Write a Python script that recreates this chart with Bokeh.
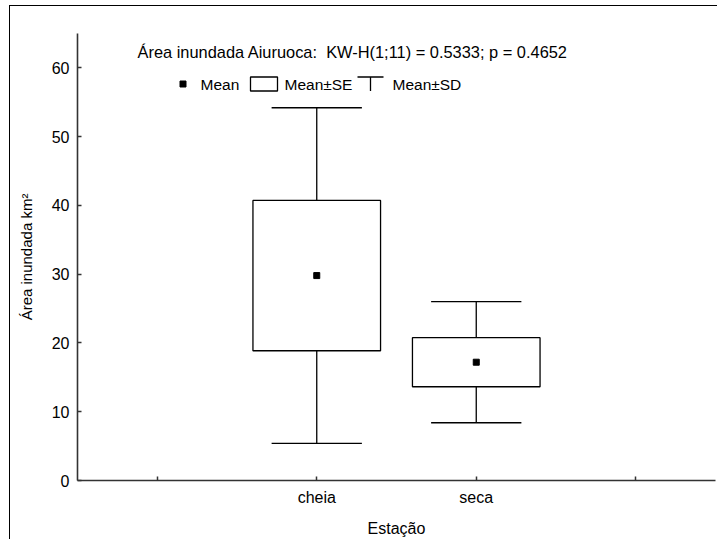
from bokeh.plotting import figure
from bokeh.models import Range1d, FixedTicker, ColumnDataSource, Label
from bokeh.embed import file_html
from bokeh.resources import INLINE

# ---- data ----
categories = ["cheia", "seca"]
means = [29.8, 17.2]
se = [10.93, 3.57]
sd = [24.4, 8.8]
x_tick_values = [0, 1, 2, 3]
x_tick_labels = ["", "cheia", "seca", ""]
y_tick_values = [0, 10, 20, 30, 40, 50, 60]
title_text = "Área inundada Aiuruoca:\u00a0 KW-H(1;11) = 0.5333; p = 0.4652"
legend_labels = ["Mean", "Mean±SE", "Mean±SD"]

FONT = "Liberation Sans"

# ---- geometry ----
X0, X1 = -0.5, 3.5
Y0, Y1 = 0, 65
FR_LEFT, FR_TOP, FR_W, FR_H = 76, 32, 638, 447  # frame in page px


def px_x(px):
    return X0 + (px - FR_LEFT) / FR_W * (X1 - X0)


def px_y(py):
    return Y0 + (FR_TOP + FR_H - py) / FR_H * (Y1 - Y0)


xs = [i + 1 for i in range(len(categories))]
src = ColumnDataSource(dict(
    x=xs,
    mean=means,
    left=[x - 0.4 for x in xs],
    right=[x + 0.4 for x in xs],
    se_lo=[m - s for m, s in zip(means, se)],
    se_hi=[m + s for m, s in zip(means, se)],
    sd_lo=[m - s for m, s in zip(means, sd)],
    sd_hi=[m + s for m, s in zip(means, sd)],
    cap_l=[x - 0.283 for x in xs],
    cap_r=[x + 0.283 for x in xs],
))

p = figure(width=708, height=534, output_backend="svg", toolbar_location=None,
           x_range=Range1d(X0, X1), y_range=Range1d(Y0, Y1),
           min_border_left=67, min_border_right=3, min_border_top=27, min_border_bottom=60)
p.margin = (5, 0, 0, 9)
p.styles = {"border-left": "1px solid #000", "border-top": "1px solid #000"}
p.outline_line_color = None
p.xgrid.visible = False
p.ygrid.visible = False
p.background_fill_color = "white"
p.border_fill_color = "white"

LW = 1.3
# whisker stems
p.segment(x0="x", y0="se_hi", x1="x", y1="sd_hi", source=src, line_color="black", line_width=LW)
p.segment(x0="x", y0="se_lo", x1="x", y1="sd_lo", source=src, line_color="black", line_width=LW)
# caps
p.segment(x0="cap_l", y0="sd_hi", x1="cap_r", y1="sd_hi", source=src, line_color="black", line_width=LW)
p.segment(x0="cap_l", y0="sd_lo", x1="cap_r", y1="sd_lo", source=src, line_color="black", line_width=LW)
# SE boxes
p.quad(left="left", right="right", bottom="se_lo", top="se_hi", source=src,
       fill_color="white", line_color="black", line_width=LW)
# means
p.scatter(x="x", y="mean", source=src, marker="square", size=6, fill_color="black", line_color="black")

# axes
for ax in (p.xaxis[0], p.yaxis[0]):
    ax.axis_line_color = "#333333"
    ax.axis_line_width = 1.6
    ax.major_tick_line_color = "#333333"
    ax.major_tick_line_width = 1.5
    ax.major_tick_in = 4
    ax.major_tick_out = 0
    ax.minor_tick_line_color = None
    ax.major_label_text_font = FONT
    ax.major_label_text_font_size = "16px"
    ax.major_label_text_color = "black"
    ax.axis_label_text_font = FONT
    ax.axis_label_text_font_size = "16px"
    ax.axis_label_text_font_style = "normal"
    ax.axis_label_text_color = "black"
    ax.major_label_standoff = 8

p.xaxis.ticker = FixedTicker(ticks=x_tick_values)
p.xaxis.major_label_overrides = {t: l for t, l in zip(x_tick_values, x_tick_labels)}
p.xaxis.axis_label = "Estação"
p.xaxis.axis_label_standoff = 11
p.yaxis.ticker = FixedTicker(ticks=y_tick_values)
p.yaxis.axis_label = "Área inundada km²"
p.yaxis.axis_label_text_font_size = "15px"
p.yaxis.axis_label_standoff = 14

# title inside plot
p.add_layout(Label(x=px_x(136), y=px_y(50), text=title_text, text_baseline="middle",
                   text_font=FONT, text_font_size="16.4px", text_color="black"))

# manual legend
LY = 82.5
LT, LB = 75.5, 89.5
LFS = "15.5px"
p.scatter(x=[px_x(181.5)], y=[px_y(LY)], marker="square", size=6, fill_color="black", line_color="black")
p.add_layout(Label(x=px_x(199), y=px_y(LY), text=legend_labels[0], text_baseline="middle",
                   text_font=FONT, text_font_size=LFS, text_color="black"))
p.quad(left=[px_x(249)], right=[px_x(276)], bottom=[px_y(LB)], top=[px_y(LT)],
       fill_color="white", line_color="black", line_width=LW)
p.add_layout(Label(x=px_x(283), y=px_y(LY), text=legend_labels[1], text_baseline="middle",
                   text_font=FONT, text_font_size=LFS, text_color="black"))
p.segment(x0=[px_x(356)], y0=[px_y(LT)], x1=[px_x(382)], y1=[px_y(LT)], line_color="black", line_width=LW)
p.segment(x0=[px_x(369)], y0=[px_y(LT)], x1=[px_x(369)], y1=[px_y(LB)], line_color="black", line_width=LW)
p.add_layout(Label(x=px_x(391), y=px_y(LY), text=legend_labels[2], text_baseline="middle",
                   text_font=FONT, text_font_size=LFS, text_color="black"))

open("out.html", "w").write(file_html(p, INLINE))
